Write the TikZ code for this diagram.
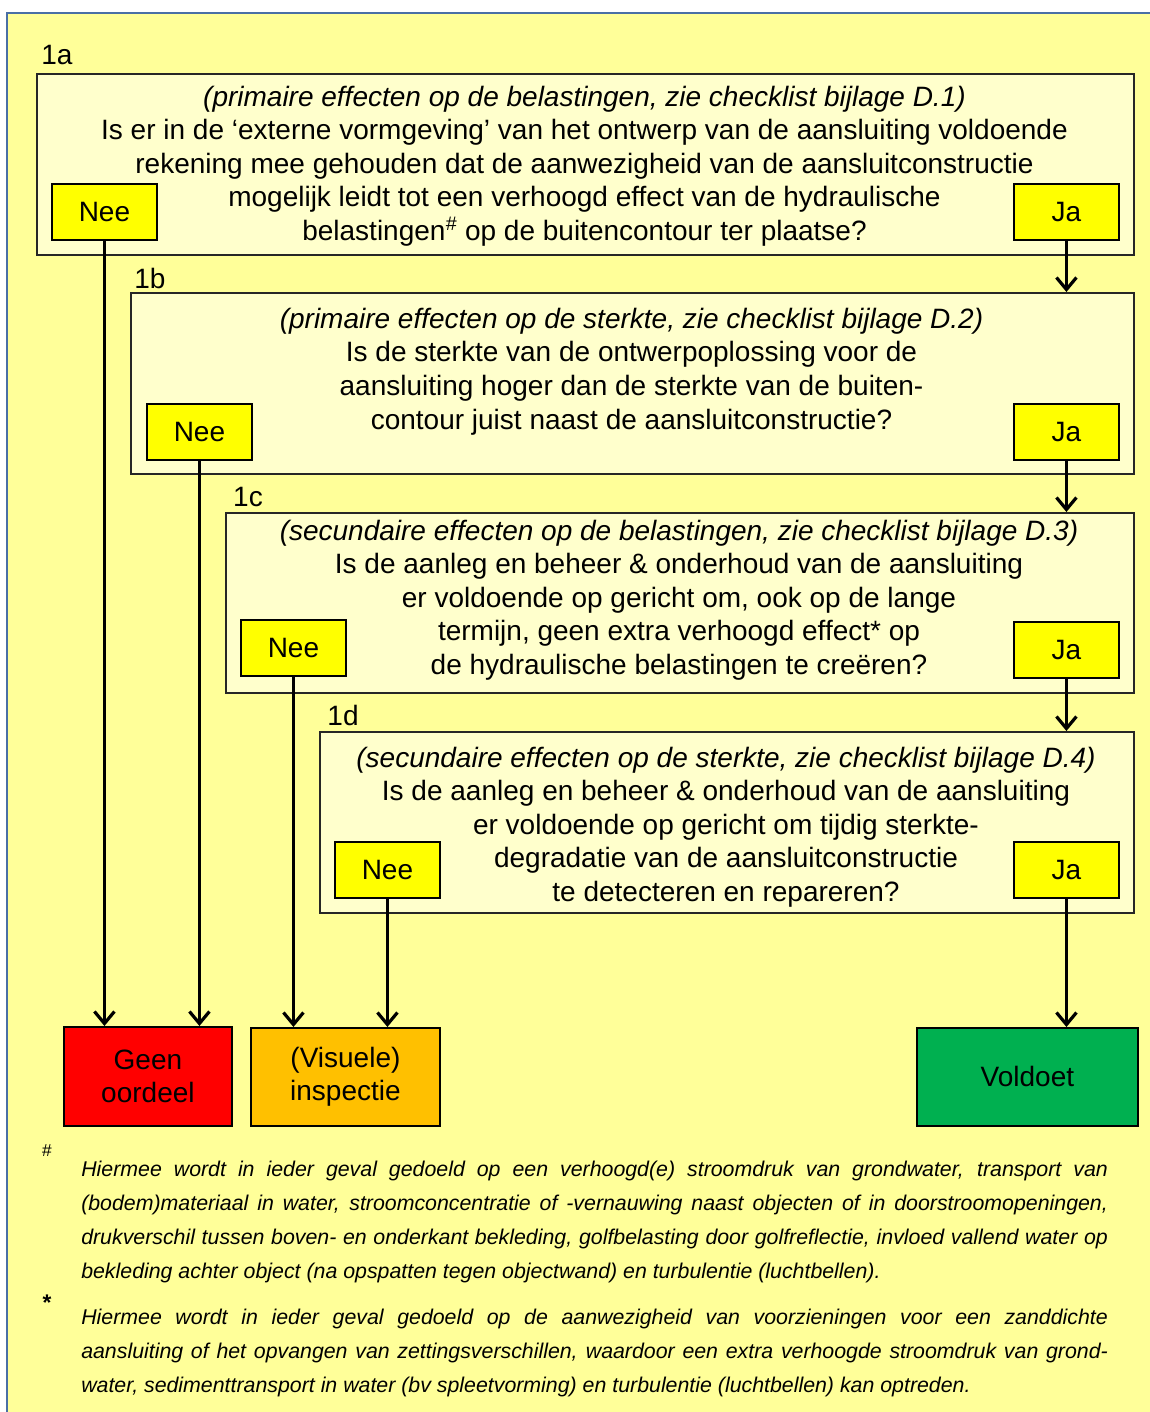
\documentclass[tikz,border=0pt]{standalone}
\usepackage{fontspec}
\setmainfont{Liberation Sans}
\usetikzlibrary{arrows.meta}
\definecolor{bgyellow}{HTML}{FFFF99}
\definecolor{qyellow}{HTML}{FFFFCC}
\definecolor{btnyellow}{HTML}{FFFF00}
\definecolor{framecol}{HTML}{4A6FA5}
\definecolor{nored}{HTML}{FF0000}
\definecolor{inspectcol}{HTML}{FFC000}
\definecolor{okgreen}{HTML}{00B050}
\newcommand\mainsize{\fontsize{21pt}{25.2pt}\selectfont}
\newcommand\notesize{\fontsize{16pt}{25.5pt}\selectfont}
\begin{document}
\begin{tikzpicture}[x=0.75pt,y=-0.75pt,
  qbox/.style={draw=black!85, line width=1.4pt, fill=qyellow, anchor=north west,
    inner sep=0pt, minimum height=135.75pt},
  qtext/.style={align=center, inner sep=0pt, font=\mainsize},
  steplabel/.style={font=\mainsize, inner sep=0pt},
  answer/.style={draw=black, line width=1.4pt, fill=btnyellow, anchor=north west,
    inner sep=0pt, minimum width=78.75pt, minimum height=42pt, font=\mainsize},
  outcome/.style={draw=black, line width=1.4pt, anchor=north west, inner sep=0pt,
    align=center, font=\mainsize},
  flow/.style={line width=2.4pt, -{Straight Barb[length=9pt,width=15pt]}},
  notemark/.style={font=\fontsize{13pt}{14pt}\selectfont, inner sep=0pt},
  notetext/.style={anchor=north west, inner sep=0pt, align=left, font=\notesize\itshape}
]
\useasboundingbox (0,0) rectangle (1149,1412);
\fill[white] (0,0) rectangle (1149,1412);
\draw[framecol, line width=2.2pt, fill=bgyellow] (7,13) rectangle (1170,1440);

% step 1a
\node[steplabel] (l1a) at (57,55) {1a};
\node[qbox, minimum width=822.75pt] (b1a) at (36,73) {};
\node[qtext] (t1a) at (584.5,166) {\textit{(primaire effecten op de belastingen, zie checklist bijlage D.1)}\\
Is er in de ‘externe vormgeving’ van het ontwerp van de aansluiting voldoende\\
rekening mee gehouden dat de aanwezigheid van de aansluitconstructie\\
mogelijk leidt tot een verhoogd effect van de hydraulische\\
belastingen\textsuperscript{\textit{\#}} op de buitencontour ter plaatse?};
\node[answer] (n1a) at (51,183) {Nee};
\node[answer] (j1a) at (1013,183) {Ja};

% step 1b
\node[steplabel] (l1b) at (150,278) {1b};
\node[qbox, minimum width=752.25pt] (b1b) at (130,292) {};
\node[qtext] (t1b) at (631.5,371.5) {\textit{(primaire effecten op de sterkte, zie checklist bijlage D.2)}\\
Is de sterkte van de ontwerpoplossing voor de\\
aansluiting hoger dan de sterkte van de buiten-\\
contour juist naast de aansluitconstructie?};
\node[answer] (n1b) at (146,403) {Nee};
\node[answer] (j1b) at (1013,403) {Ja};

% step 1c
\node[steplabel] (l1c) at (248,497) {1c};
\node[qbox, minimum width=681pt, minimum height=135pt] (b1c) at (225,512) {};
\node[qtext] (t1c) at (679,600) {\textit{(secundaire effecten op de belastingen, zie checklist bijlage D.3)}\\
Is de aanleg en beheer \& onderhoud van de aansluiting\\
er voldoende op gericht om, ook op de lange\\
termijn, geen extra verhoogd effect* op\\
de hydraulische belastingen te creëren?};
\node[answer] (n1c) at (240,619) {Nee};
\node[answer] (j1c) at (1013,621) {Ja};

% step 1d
\node[steplabel] (l1d) at (343,715) {1d};
\node[qbox, minimum width=610.5pt] (b1d) at (319,731) {};
\node[qtext] (t1d) at (726,827) {\textit{(secundaire effecten op de sterkte, zie checklist bijlage D.4)}\\
Is de aanleg en beheer \& onderhoud van de aansluiting\\
er voldoende op gericht om tijdig sterkte-\\
degradatie van de aansluitconstructie\\
te detecteren en repareren?};
\node[answer] (n1d) at (334,841) {Nee};
\node[answer] (j1d) at (1013,841) {Ja};

% outcomes
\node[outcome, fill=nored, minimum width=126pt, minimum height=74.25pt] (geen) at (63,1026) {Geen\\oordeel};
\node[outcome, fill=inspectcol, minimum width=141.75pt, minimum height=73.5pt] (insp) at (250,1027) {(Visuele)\\inspectie};
\node[outcome, fill=okgreen, minimum width=165.75pt, minimum height=73.5pt] (ok) at (916,1027) {Voldoet};

% connectors
\draw[flow] (j1a.south) -- (j1a.south |- b1b.north);
\draw[flow] (j1b.south) -- (j1b.south |- b1c.north);
\draw[flow] (j1c.south) -- (j1c.south |- b1d.north);
\draw[flow] (j1d.south) -- (j1d.south |- ok.north);
\draw[flow] (n1a.south) -- (n1a.south |- geen.north);
\draw[flow] (n1b.south) -- (n1b.south |- geen.north);
\draw[flow] (n1c.south) -- (n1c.south |- insp.north);
\draw[flow] (n1d.south) -- (n1d.south |- insp.north);

% footnotes
\node[notemark] (m1) at (47,1151) {\#};
\node[notetext] (f1) at (81,1161) {%
\makebox[770pt][s]{Hiermee wordt in ieder geval gedoeld op een verhoogd(e) stroomdruk van grondwater, transport van}\\
\makebox[770pt][s]{(bodem)materiaal in water, stroomconcentratie of -vernauwing naast objecten of in doorstroomopeningen,}\\
\makebox[770pt][s]{drukverschil tussen boven- en onderkant bekleding, golfbelasting door golfreflectie, invloed vallend water op}\\
bekleding achter object (na opspatten tegen objectwand) en turbulentie (luchtbellen).};
\node[notemark, font=\fontsize{17pt}{18pt}\selectfont\bfseries] (m2) at (47,1303) {*};
\node[notetext] (f2) at (81,1309) {%
\makebox[770pt][s]{Hiermee wordt in ieder geval gedoeld op de aanwezigheid van voorzieningen voor een zanddichte}\\
\makebox[770pt][s]{aansluiting of het opvangen van zettingsverschillen, waardoor een extra verhoogde stroomdruk van grond-}\\
water, sedimenttransport in water (bv spleetvorming) en turbulentie (luchtbellen) kan optreden.};
\end{tikzpicture}
\end{document}
